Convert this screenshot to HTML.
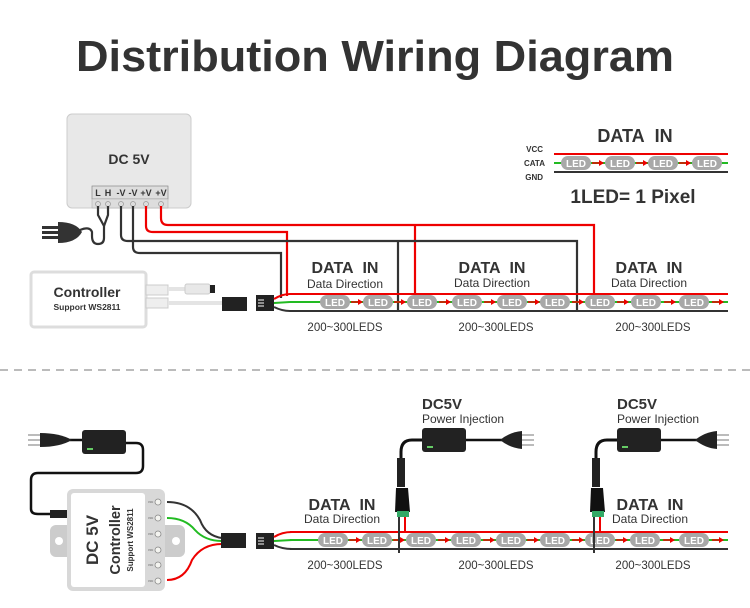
<!DOCTYPE html>
<html><head><meta charset="utf-8"><style>
html,body{margin:0;padding:0;background:#fff;}
svg{display:block;font-family:"Liberation Sans",sans-serif;}
</style></head><body>
<svg width="750" height="608" viewBox="0 0 750 608" xmlns="http://www.w3.org/2000/svg">
<defs>
<g id="led"><rect x="-15" y="-7" width="30" height="14" rx="7" fill="#a8a8a8"/><text x="0" y="4" font-size="10" font-weight="bold" fill="#fff" text-anchor="middle">LED</text></g>
<g id="arr"><path d="M-6,0 L3,0" stroke="#e00" stroke-width="1.5"/><path d="M1,-3 L6,0 L1,3Z" fill="#e00"/></g>
</defs>
<text x="375" y="71" font-size="44" font-weight="bold" fill="#333" text-anchor="middle" textLength="598" lengthAdjust="spacingAndGlyphs">Distribution Wiring Diagram</text>

<!-- Legend -->
<text x="635" y="142" font-size="18" font-weight="bold" fill="#333" text-anchor="middle">DATA&#160;&#160;IN</text>
<text x="543" y="152" font-size="8" font-weight="bold" fill="#333" text-anchor="end">VCC</text>
<text x="545" y="166" font-size="8" font-weight="bold" fill="#333" text-anchor="end">CATA</text>
<text x="543" y="180" font-size="8" font-weight="bold" fill="#333" text-anchor="end">GND</text>
<line x1="554" y1="154" x2="728" y2="154" stroke="#e00" stroke-width="2"/>
<line x1="554" y1="163" x2="728" y2="163" stroke="#2b2" stroke-width="2"/>
<line x1="554" y1="172" x2="728" y2="172" stroke="#333" stroke-width="2"/>
<use href="#led" x="576" y="163"/><use href="#led" x="620" y="163"/><use href="#led" x="663" y="163"/><use href="#led" x="707" y="163"/>
<use href="#arr" x="598" y="163"/><use href="#arr" x="642" y="163"/><use href="#arr" x="685" y="163"/>
<text x="633" y="203" font-size="19" font-weight="bold" fill="#333" text-anchor="middle">1LED= 1 Pixel</text>

<!-- PSU -->
<rect x="67" y="114" width="124" height="94" rx="5" fill="#e8e8e8" stroke="#ccc"/>
<text x="129" y="164" font-size="14" font-weight="bold" fill="#333" text-anchor="middle">DC 5V</text>
<g font-size="9" font-weight="bold" fill="#333" text-anchor="middle">
<rect x="92" y="186" width="76" height="13" fill="#ddd" stroke="#888" stroke-width="0.7"/>
<rect x="92" y="199" width="76" height="9" fill="#ddd" stroke="#aaa" stroke-width="0.5"/>
<text x="98" y="196">L</text><text x="108" y="196">H</text><text x="121" y="196">-V</text><text x="133" y="196">-V</text><text x="146" y="196">+V</text><text x="161" y="196">+V</text>
</g>
<g fill="none" stroke="#999" stroke-width="0.7"><circle cx="98" cy="204" r="2.5"/><circle cx="108" cy="204" r="2.5"/><circle cx="121" cy="204" r="2.5"/><circle cx="133" cy="204" r="2.5"/><circle cx="146" cy="204" r="2.5"/><circle cx="161" cy="204" r="2.5"/></g>

<!-- top wiring -->
<g fill="none" stroke-width="2.2">
<path d="M161,206 V218 Q161,225 168,225 H594 V294" stroke="#e00"/>
<path d="M415,225 V294" stroke="#e00"/>
<path d="M146,206 V226 Q146,232 153,232 H287 V296" stroke="#e00"/>
<path d="M121,206 V235 Q121,241 128,241 H577 V311" stroke="#333"/>
<path d="M398,241 V311" stroke="#333"/>
<path d="M133,206 V247 Q133,253 140,253 H281 V298" stroke="#333"/>
<path d="M98,206 V215 L104,226 V238 Q104,244 98,244 Q92,244 92,236 V232 Q90,226 80,230" stroke="#333"/>
<path d="M108,206 V215 L104,226" stroke="#333"/>
</g>
<!-- plug top -->
<path d="M58,222 Q76,222 82,232 Q76,243 58,243Z" fill="#333"/>
<rect x="42" y="226" width="16" height="3" fill="#333"/><rect x="42" y="231" width="16" height="3" fill="#333"/><rect x="42" y="236" width="16" height="3" fill="#333"/>

<!-- controller top -->
<rect x="31" y="272" width="115" height="55" rx="3" fill="#fff" stroke="#ddd" stroke-width="3"/>
<text x="87" y="297" font-size="14" font-weight="bold" fill="#333" text-anchor="middle">Controller</text>
<text x="87" y="310" font-size="8.5" font-weight="bold" fill="#333" text-anchor="middle">Support WS2811</text>
<rect x="146" y="285" width="22" height="10" fill="#eee" stroke="#ccc"/><rect x="146" y="298" width="22" height="10" fill="#eee" stroke="#ccc"/>
<line x1="168" y1="289" x2="205" y2="289" stroke="#e4e4e4" stroke-width="4"/>
<rect x="185" y="284" width="25" height="10" rx="2" fill="#e8e8e8" stroke="#ccc"/><rect x="210" y="285" width="5" height="8" fill="#222"/>
<line x1="168" y1="303" x2="222" y2="303" stroke="#e4e4e4" stroke-width="4"/>
<rect x="222" y="297" width="25" height="14" fill="#222"/>
<rect x="256" y="295" width="18" height="16" fill="#222"/>
<g stroke="#fff" stroke-width="1"><line x1="258" y1="300" x2="264" y2="300"/><line x1="258" y1="303" x2="264" y2="303"/><line x1="258" y1="306" x2="264" y2="306"/></g>
<path d="M274,299 Q282,294 290,294" stroke="#e00" stroke-width="2" fill="none"/>
<path d="M274,303 L290,302" stroke="#2b2" stroke-width="2" fill="none"/>
<path d="M274,307 Q282,311 290,311" stroke="#333" stroke-width="2" fill="none"/>

<!-- top strip -->
<line x1="290" y1="294" x2="728" y2="294" stroke="#e00" stroke-width="2"/>
<line x1="290" y1="302" x2="728" y2="302" stroke="#2b2" stroke-width="2"/>
<line x1="290" y1="311" x2="728" y2="311" stroke="#333" stroke-width="2"/>
<g>
<use href="#led" x="335" y="302"/><use href="#led" x="378" y="302"/><use href="#led" x="422" y="302"/><use href="#led" x="467" y="302"/><use href="#led" x="512" y="302"/><use href="#led" x="555" y="302"/><use href="#led" x="600" y="302"/><use href="#led" x="646" y="302"/><use href="#led" x="694" y="302"/>
<use href="#arr" x="357" y="302"/><use href="#arr" x="400" y="302"/><use href="#arr" x="445" y="302"/><use href="#arr" x="490" y="302"/><use href="#arr" x="534" y="302"/><use href="#arr" x="578" y="302"/><use href="#arr" x="623" y="302"/><use href="#arr" x="670" y="302"/><use href="#arr" x="718" y="302"/>
</g>
<g fill="#333" text-anchor="middle">
<text x="345" y="273" font-size="16" font-weight="bold">DATA&#160;&#160;IN</text><text x="345" y="288" font-size="12">Data Direction</text><text x="345" y="331" font-size="11.5">200~300LEDS</text>
<text x="492" y="273" font-size="16" font-weight="bold">DATA&#160;&#160;IN</text><text x="492" y="287" font-size="12">Data Direction</text><text x="496" y="331" font-size="11.5">200~300LEDS</text>
<text x="649" y="273" font-size="16" font-weight="bold">DATA&#160;&#160;IN</text><text x="649" y="287" font-size="12">Data Direction</text><text x="653" y="331" font-size="11.5">200~300LEDS</text>
</g>

<!-- divider -->
<line x1="0" y1="370" x2="750" y2="370" stroke="#bbb" stroke-width="2" stroke-dasharray="8,6"/>

<!-- bottom: adapter -->
<g fill="none" stroke="#111" stroke-width="2.5">
<path d="M125,443 H136 Q143,443 143,450 V466 Q143,473 136,473 H38 Q31,473 31,480 V509 Q31,514 38,514 H60"/>
<path d="M70,440 H82"/>
</g>
<rect x="82" y="430" width="44" height="24" rx="3" fill="#222"/><rect x="87" y="448" width="6" height="2" fill="#6c6"/>
<path d="M40,433 Q60,433 72,440 Q60,447 40,447Z" fill="#222"/>
<g fill="#bbb"><rect x="28" y="434" width="12" height="2"/><rect x="28" y="439" width="12" height="2"/><rect x="28" y="444" width="12" height="2"/></g>
<rect x="50" y="510" width="20" height="8" fill="#222"/>

<!-- bottom controller -->
<rect x="50" y="525" width="135" height="32" rx="6" fill="#ccc"/>
<circle cx="59" cy="541" r="4" fill="#fff"/><circle cx="176" cy="541" r="4" fill="#fff"/>
<rect x="67" y="489" width="98" height="102" rx="6" fill="#d8d8d8"/>
<rect x="71" y="493" width="74" height="94" rx="3" fill="#fff"/>
<text transform="translate(98,540) rotate(-90)" font-size="17" font-weight="bold" fill="#333" text-anchor="middle">DC 5V</text>
<text transform="translate(120,540) rotate(-90)" font-size="14.5" font-weight="bold" fill="#333" text-anchor="middle">Controller</text>
<text transform="translate(133,540) rotate(-90)" font-size="8" font-weight="bold" fill="#333" text-anchor="middle">Support WS2811</text>
<g fill="#f4f4f0" stroke="#888" stroke-width="0.8"><circle cx="158" cy="502" r="3"/><circle cx="158" cy="518" r="3"/><circle cx="158" cy="534" r="3"/><circle cx="158" cy="550" r="3"/><circle cx="158" cy="565" r="3"/><circle cx="158" cy="581" r="3"/></g>
<g font-size="3.5" fill="#666"><text x="148" y="503">vcc</text><text x="148" y="519">vcc</text><text x="148" y="535">vcc</text><text x="148" y="551">vcc</text><text x="148" y="566">vcc</text><text x="148" y="582">vcc</text></g>
<g fill="none" stroke-width="2">
<path d="M167,502 Q190,502 200,520 Q206,536 222,538" stroke="#333"/>
<path d="M167,518 Q185,518 195,530 Q205,541 222,541" stroke="#2b2"/>
<path d="M167,580 Q185,580 192,560 Q202,544 222,544" stroke="#e00"/>
</g>
<rect x="221" y="533" width="25" height="15" fill="#222"/>
<rect x="256" y="533" width="18" height="16" fill="#222"/>
<g stroke="#fff" stroke-width="1"><line x1="258" y1="538" x2="264" y2="538"/><line x1="258" y1="541" x2="264" y2="541"/><line x1="258" y1="544" x2="264" y2="544"/></g>
<path d="M274,537 Q282,532 292,532" stroke="#e00" stroke-width="2" fill="none"/>
<path d="M274,541 L292,540" stroke="#2b2" stroke-width="2" fill="none"/>
<path d="M274,545 Q282,549 292,549" stroke="#333" stroke-width="2" fill="none"/>

<!-- bottom strip -->
<line x1="290" y1="532" x2="728" y2="532" stroke="#e00" stroke-width="2"/>
<line x1="290" y1="540" x2="728" y2="540" stroke="#2b2" stroke-width="2"/>
<line x1="290" y1="549" x2="728" y2="549" stroke="#333" stroke-width="2"/>
<use href="#led" x="333" y="540"/><use href="#led" x="377" y="540"/><use href="#led" x="421" y="540"/><use href="#led" x="466" y="540"/><use href="#led" x="511" y="540"/><use href="#led" x="555" y="540"/><use href="#led" x="600" y="540"/><use href="#led" x="645" y="540"/><use href="#led" x="694" y="540"/>
<use href="#arr" x="355" y="540"/><use href="#arr" x="399" y="540"/><use href="#arr" x="444" y="540"/><use href="#arr" x="489" y="540"/><use href="#arr" x="533" y="540"/><use href="#arr" x="578" y="540"/><use href="#arr" x="622" y="540"/><use href="#arr" x="669" y="540"/><use href="#arr" x="718" y="540"/>

<!-- injection 1 -->
<g>
<path d="M422,440 H412 Q401,440 401,452 V470" fill="none" stroke="#111" stroke-width="3"/>
<path d="M397,458 H405 V487 H397Z" fill="#222"/>
<path d="M396,488 H408 L410,512 H395Z" fill="#111"/>
<rect x="397" y="511" width="12" height="6" fill="#3a6"/>
<line x1="399" y1="517" x2="399" y2="553" stroke="#333" stroke-width="2"/>
<line x1="405" y1="517" x2="405" y2="532" stroke="#e00" stroke-width="2"/>
<rect x="422" y="428" width="44" height="24" rx="3" fill="#222"/><rect x="427" y="446" width="6" height="2" fill="#6c6"/>
<path d="M466,440 H502" stroke="#111" stroke-width="2.5"/>
<path d="M500,440 Q510,432 522,431 V449 Q510,448 500,440Z" fill="#222"/>
<g fill="#bbb"><rect x="522" y="434" width="12" height="2"/><rect x="522" y="439" width="12" height="2"/><rect x="522" y="444" width="12" height="2"/></g>
</g>
<!-- injection 2 -->
<g transform="translate(195,0)">
<path d="M422,440 H412 Q401,440 401,452 V470" fill="none" stroke="#111" stroke-width="3"/>
<path d="M397,458 H405 V487 H397Z" fill="#222"/>
<path d="M396,488 H408 L410,512 H395Z" fill="#111"/>
<rect x="397" y="511" width="12" height="6" fill="#3a6"/>
<line x1="399" y1="517" x2="399" y2="553" stroke="#333" stroke-width="2"/>
<line x1="405" y1="517" x2="405" y2="532" stroke="#e00" stroke-width="2"/>
<rect x="422" y="428" width="44" height="24" rx="3" fill="#222"/><rect x="427" y="446" width="6" height="2" fill="#6c6"/>
<path d="M466,440 H502" stroke="#111" stroke-width="2.5"/>
<path d="M500,440 Q510,432 522,431 V449 Q510,448 500,440Z" fill="#222"/>
<g fill="#bbb"><rect x="522" y="434" width="12" height="2"/><rect x="522" y="439" width="12" height="2"/><rect x="522" y="444" width="12" height="2"/></g>
</g>

<g fill="#333">
<text x="422" y="409" font-size="15" font-weight="bold">DC5V</text><text x="422" y="423" font-size="12">Power Injection</text>
<text x="617" y="409" font-size="15" font-weight="bold">DC5V</text><text x="617" y="423" font-size="12">Power Injection</text>
<g text-anchor="middle">
<text x="342" y="510" font-size="16" font-weight="bold">DATA&#160;&#160;IN</text><text x="342" y="523" font-size="12">Data Direction</text><text x="345" y="569" font-size="11.5">200~300LEDS</text>
<text x="496" y="569" font-size="11.5">200~300LEDS</text>
<text x="650" y="510" font-size="16" font-weight="bold">DATA&#160;&#160;IN</text><text x="650" y="523" font-size="12">Data Direction</text><text x="653" y="569" font-size="11.5">200~300LEDS</text>
</g>
</g>
</svg>
</body></html>
